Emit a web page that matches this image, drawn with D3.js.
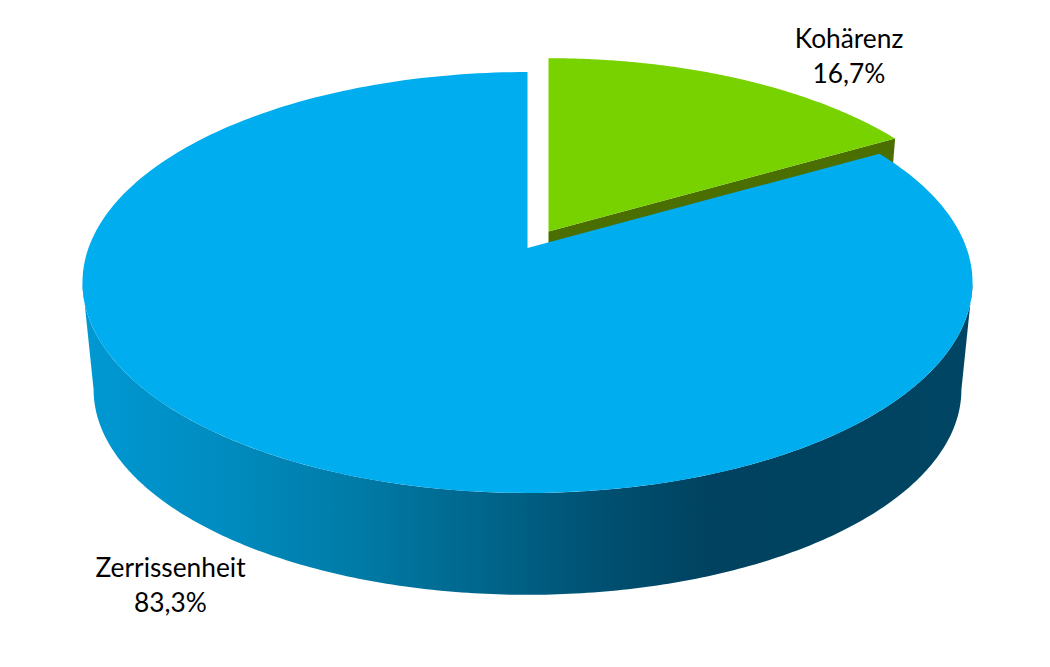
<!DOCTYPE html>
<html><head><meta charset="utf-8">
<script src="https://cdn.jsdelivr.net/npm/d3@7"></script>
<style>html,body{margin:0;padding:0;background:#fff}svg{display:block}</style>
</head><body><svg id="c" width="1050" height="667"></svg>
<script>
const categories = ["Kohärenz", "Zerrissenheit"];
const shares = [16.7, 83.3];
const shareLabels = ["16,7%", "83,3%"];
const topColors = ["#78D200", "#00ADEF"];
const wallColors = ["#4A6E00", "#004563"];

const svg = d3.select("#c");
const W = 1050;

// Perspective projection of the pie disc
const K = 0.1639, A = 439, B = 204.8;
function project(angle, o) {
  const u = Math.sin(angle), v = -Math.cos(angle), d = 1 - K * v;
  return [o.x + o.s * A * u / d, o.y + o.s * B * v / d];
}
const slices = d3.pie().sort(null).value(d => d)(shares);
const faces = [
  {top:{x:548.5,y:231.5,s:0.985}, low:{x:548.5,y:335,s:0.96}},
  {top:{x:527.5,y:248,s:1},       low:{x:527.5,y:356,s:0.975}}
];
const line = d3.line().curve(d3.curveLinear);
const arcPts = (a0, a1, o) => d3.range(0, 241).map(i => project(a0 + (a1 - a0) * i / 240, o));

// Gradient of the blue wall
const grad = svg.append("defs").append("linearGradient")
  .attr("id","wall").attr("gradientUnits","userSpaceOnUse")
  .attr("x1",90).attr("x2",W-90).attr("y1",0).attr("y2",0);
[[0,"#0098D2"],[0.15,"#008CC0"],[0.3,"#007CA8"],[0.45,"#00668C"],[0.6,"#004F70"],[0.72,"#00425F"],[1,"#004563"]]
  .forEach(s => grad.append("stop").attr("offset",s[0]).attr("stop-color",s[1]));

// Green wall (cut face), behind the blue slice
const g = slices[0], gf = faces[0];
svg.append("path")
  .attr("d", line([project(g.endAngle,gf.top), [gf.top.x,gf.top.y], [gf.low.x,gf.low.y], project(g.endAngle,gf.low)]) + "Z")
  .attr("fill", wallColors[0]);
// Green top
svg.append("path")
  .attr("d", line([[gf.top.x,gf.top.y], ...arcPts(g.startAngle,g.endAngle,gf.top)]) + "Z")
  .attr("fill", topColors[0]);

// Blue wall
const bf = faces[1];
const a0 = Math.acos(-K), a1 = 2*Math.PI - a0;
svg.append("path")
  .attr("d", line([...arcPts(a0,a1,bf.top), ...arcPts(a0,a1,bf.low).reverse()]) + "Z")
  .attr("fill","url(#wall)");
// Blue top
const b = slices[1];
svg.append("path")
  .attr("d", line([[bf.top.x,bf.top.y], ...arcPts(b.startAngle,b.endAngle,bf.top)]) + "Z")
  .attr("fill", topColors[1]);

// Labels
const labelPos = [[849,48],[170.5,576.5]];
categories.forEach((c,i) => {
  const t = svg.append("text").attr("text-anchor","middle")
    .attr("font-family","Lato, 'Open Sans', sans-serif").attr("font-size",26.3).attr("fill","#000");
  t.append("tspan").attr("x",labelPos[i][0]).attr("y",labelPos[i][1]).text(c);
  t.append("tspan").attr("x",labelPos[i][0]).attr("y",labelPos[i][1]+35).text(shareLabels[i]);
});
</script></body></html>
